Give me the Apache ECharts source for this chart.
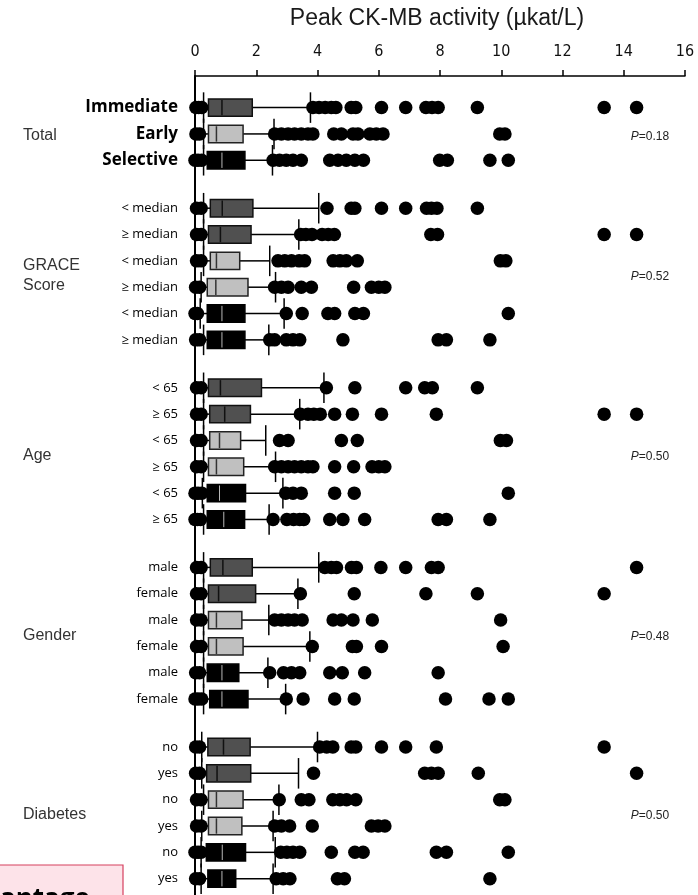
<!DOCTYPE html>
<html><head><meta charset="utf-8">
<script src="https://cdn.jsdelivr.net/npm/echarts@6/dist/echarts.min.js"></script>
<style>html,body{margin:0;padding:0;background:#fff}#c{width:698px;height:895px}</style>
</head><body><div id="c"></div>
<script>
// ---------------- data ----------------
const chartTitle = 'Peak CK-MB activity (µkat/L)';
const xTickValues = [0, 2, 4, 6, 8, 10, 12, 14, 16];
const groupNames = ['Total', 'GRACE\nScore', 'Age', 'Gender', 'Diabetes'];
const groupPValues = ['0.18', '0.52', '0.50', '0.48', '0.50'];
const strategyNames = ['Immediate', 'Early', 'Selective'];

const rowLabels = [
  'Immediate', 'Early', 'Selective',
  '< median', '≥ median', '< median', '≥ median', '< median', '≥ median',
  '< 65', '≥ 65', '< 65', '≥ 65', '< 65', '≥ 65',
  'male', 'female', 'male', 'female', 'male', 'female',
  'no', 'yes', 'no', 'yes', 'no', 'yes'
];
const rowGroup = [0,0,0, 1,1,1,1,1,1, 2,2,2,2,2,2, 3,3,3,3,3,3, 4,4,4,4,4,4];
const rowStrategy = [0,1,2, 0,0,1,1,2,2, 0,0,1,1,2,2, 0,0,1,1,2,2, 0,0,1,1,2,2];

const lowerWhisker = [0.28,0.28,0.28, 0.28,0.28,0.28,0.20,0.17,0.28, 0.28,0.28,0.28,0.28,0.24,0.28, 0.28,0.28,0.28,0.28,0.28,0.28, 0.22,0.22,0.28,0.22,0.20,0.20];
const quartile1    = [0.44,0.44,0.40, 0.50,0.44,0.50,0.40,0.40,0.40, 0.44,0.48,0.48,0.44,0.40,0.40, 0.50,0.44,0.44,0.44,0.40,0.48, 0.42,0.38,0.44,0.44,0.37,0.42];
const medianValue  = [0.88,0.70,0.88, 0.89,0.83,0.70,0.68,0.88,0.88, 0.83,0.97,0.80,0.70,0.80,0.94, 0.91,0.77,0.70,0.70,0.88,0.88, 0.93,0.72,0.70,0.70,0.89,0.88];
const quartile3    = [1.87,1.57,1.63, 1.89,1.83,1.46,1.73,1.63,1.63, 2.17,1.81,1.49,1.59,1.65,1.62, 1.87,1.98,1.53,1.57,1.43,1.73, 1.80,1.82,1.57,1.53,1.65,1.33];
const upperWhisker = [3.77,2.58,2.53, 4.04,3.39,2.44,2.63,2.91,2.41, 4.21,3.42,2.31,2.63,2.87,2.42, 4.04,3.36,2.41,3.75,2.38,2.96, 4.00,3.38,2.74,2.55,2.62,2.55];

const outliers = [
  [0.03,0.12,0.22,3.85,4.05,4.25,4.45,4.6,5.1,5.25,6.09,6.88,7.54,7.74,7.94,9.22,13.36,14.42],
  [0.03,0.15,2.6,2.82,3.04,3.25,3.47,3.69,3.85,4.53,4.78,5.16,5.32,5.71,5.92,6.14,9.95,10.12],
  [0.0,0.1,0.22,2.55,2.76,2.98,3.2,3.47,4.4,4.67,4.94,5.22,5.5,7.99,8.24,9.63,10.23],
  [0.05,0.2,4.31,5.1,5.22,6.09,6.88,7.56,7.72,7.9,9.22],
  [0.05,0.2,3.45,3.62,3.82,4.15,4.35,4.55,7.7,7.92,13.36,14.42],
  [0.05,0.2,2.71,2.93,3.15,3.4,3.58,4.51,4.73,4.94,5.3,9.97,10.15],
  [0.02,0.15,2.6,2.82,3.04,3.47,3.8,5.18,5.76,6.0,6.2],
  [0.0,0.08,2.98,3.5,4.34,4.56,5.22,5.5,10.23],
  [0.02,0.15,2.44,2.6,2.98,3.2,3.42,4.83,7.94,8.21,9.63],
  [0.05,0.2,4.29,5.22,6.88,7.5,7.75,9.22],
  [0.05,0.2,3.44,3.69,3.88,4.09,4.56,5.14,6.09,7.88,13.36,14.42],
  [0.05,0.2,2.76,3.04,4.78,5.3,9.97,10.17],
  [0.05,0.2,2.6,2.82,3.04,3.25,3.47,3.69,3.85,4.56,5.18,5.78,6.0,6.2],
  [0.0,0.1,0.22,2.96,3.2,3.47,4.56,5.2,10.23],
  [0.0,0.08,0.18,2.55,3.0,3.22,3.42,3.55,4.4,4.83,5.54,7.94,8.21,9.63],
  [0.05,0.2,4.24,4.45,4.62,5.11,5.27,6.07,6.88,7.72,7.94,14.42],
  [0.05,0.2,3.44,5.2,7.54,9.22,13.36],
  [0.05,0.2,2.6,2.82,3.04,3.25,3.5,4.51,4.78,5.16,5.79,9.98],
  [0.05,0.2,3.83,5.14,5.27,6.09,10.06],
  [0.02,0.15,2.44,2.89,3.15,3.42,4.4,4.81,5.54,7.94],
  [0.0,0.1,0.22,2.98,3.53,4.56,5.2,8.18,9.6,10.23],
  [0.02,0.15,4.07,4.3,4.5,5.1,5.25,6.09,6.88,7.88,13.36],
  [0.02,0.15,3.87,7.5,7.72,7.94,9.25,14.42],
  [0.05,0.2,2.75,3.47,3.72,4.5,4.73,4.95,5.25,9.95,10.12],
  [0.05,0.2,2.6,2.82,3.09,3.83,5.76,5.98,6.2],
  [0.0,0.1,0.2,2.8,3.0,3.2,3.42,4.45,5.22,5.49,7.88,8.21,10.23],
  [0.02,0.15,2.65,2.88,3.1,4.65,4.88,9.63]
];

const footnoteText = 'antage';

// ---------------- layout helpers ----------------
const GROUP_GAP = 0.82; // extra empty space between groups, in row units
const rowPos = rowLabels.map((_, i) => i + rowGroup[i] * GROUP_GAP);
const groupMid = groupNames.map((_, g) => {
  const ps = rowPos.filter((_, i) => rowGroup[i] === g);
  return (ps[0] + ps[ps.length - 1]) / 2;
});

const boxFill = ['#505050', '#c0c0c0', '#000000'];
const boxStroke = ['#111', '#222', '#000'];
const medianStroke = ['#111', '#333', '#b8b8b8'];

const boxData = rowLabels.map((_, i) => [rowPos[i], lowerWhisker[i], quartile1[i], medianValue[i], quartile3[i], upperWhisker[i], rowStrategy[i], i]);
const outlierData = [];
outliers.forEach((arr, i) => arr.forEach(v => outlierData.push([v, rowPos[i]])));
const groupData = groupNames.map((_, g) => [groupMid[g], g]);

function renderBox(params, api) {
  const p = api.value(0);
  const z0 = api.coord([0, p]);
  const lo = api.coord([api.value(1), p]);
  const a = api.coord([api.value(2), p]);
  const m = api.coord([api.value(3), p]);
  const b = api.coord([api.value(4), p]);
  const hi = api.coord([api.value(5), p]);
  const s = api.value(6);
  const idx = api.value(7);
  const rowH = Math.abs(api.size([0, 1])[1]);
  const bh = rowH * 0.66;
  const capH = rowH * 1.16;
  const y = a[1];
  const ls = { stroke: '#000', lineWidth: 1.5 };
  const isTotal = rowGroup[idx] === 0;
  return {
    type: 'group',
    children: [
      { type: 'line', shape: { x1: lo[0], y1: y, x2: a[0], y2: y }, style: ls },
      { type: 'line', shape: { x1: b[0], y1: y, x2: hi[0], y2: y }, style: ls },
      { type: 'line', shape: { x1: lo[0], y1: y - capH / 2, x2: lo[0], y2: y + capH / 2 }, style: ls },
      { type: 'line', shape: { x1: hi[0], y1: y - capH / 2, x2: hi[0], y2: y + capH / 2 }, style: ls },
      { type: 'rect', shape: { x: a[0], y: y - bh / 2, width: b[0] - a[0], height: bh },
        style: { fill: boxFill[s], stroke: boxStroke[s], lineWidth: 1.5 } },
      { type: 'line', shape: { x1: m[0], y1: y - bh / 2 + 1, x2: m[0], y2: y + bh / 2 - 1 },
        style: { stroke: medianStroke[s], lineWidth: s === 2 ? 1 : 1.5 } },
      { type: 'text', x: z0[0] - 17, y: y,
        style: { text: rowLabels[idx], fill: '#000', align: 'right', verticalAlign: 'middle',
          font: isTotal ? 'bold 17px "Open Sans", Lato, sans-serif' : '13px "Open Sans", Lato, sans-serif' } }
    ]
  };
}

function renderGroup(params, api) {
  const p = api.value(0);
  const g = api.value(1);
  const c = api.coord([0, p]);
  return {
    type: 'group',
    children: [
      { type: 'text', x: 23, y: c[1] + 2,
        style: { text: groupNames[g], fill: '#333', align: 'left', verticalAlign: 'middle',
          font: '16px "Liberation Sans", Arial, sans-serif', lineHeight: 20 } },
      { type: 'text', x: 650, y: c[1] + 3,
        style: { text: '{i|P}=' + groupPValues[g], fill: '#222', align: 'center', verticalAlign: 'middle',
          font: '12px "Liberation Sans", Arial, sans-serif',
          rich: { i: { fontStyle: 'italic', fontSize: 12, fontFamily: '"Liberation Sans", Arial, sans-serif', fill: '#222' } } } }
    ]
  };
}

const chart = echarts.init(document.getElementById('c'), null, { renderer: 'canvas' });
chart.setOption({
  animation: false,
  backgroundColor: '#fff',
  grid: { left: 195, right: 13, top: 76, bottom: 0, containLabel: false },
  xAxis: {
    type: 'value', position: 'top', min: xTickValues[0], max: xTickValues[xTickValues.length - 1],
    interval: xTickValues[1] - xTickValues[0],
    axisLine: { show: true, onZero: false, lineStyle: { color: '#000', width: 1.5 } },
    axisTick: { show: true, inside: false, length: 6, lineStyle: { color: '#000', width: 1.5 } },
    axisLabel: { margin: 16, color: '#111', fontSize: 16,
      fontFamily: '"Liberation Sans Narrow", "DejaVu Sans Condensed", "Liberation Sans", sans-serif' },
    splitLine: { show: false }
  },
  yAxis: {
    type: 'value', inverse: true, min: -1.2, max: 29.9,
    axisLine: { show: true, onZero: false, lineStyle: { color: '#000', width: 2 } },
    axisTick: { show: false }, axisLabel: { show: false }, splitLine: { show: false }
  },
  graphic: [
    { type: 'text', x: 437, y: 19, style: { text: chartTitle, fill: '#1a1a1a', align: 'center', verticalAlign: 'middle',
      font: '23px "Liberation Sans", Arial, sans-serif' } },
    { type: 'rect', shape: { x: -1, y: 865, width: 124, height: 40 },
      style: { fill: '#fde3e9', stroke: '#d6405f', lineWidth: 1.2 } },
    { type: 'text', x: 0, y: 900, style: { text: footnoteText, fill: '#000', align: 'left', verticalAlign: 'middle',
      font: 'bold 26px "Open Sans", Lato, sans-serif' } }
  ],
  series: [
    { type: 'custom', name: 'box', renderItem: renderBox, data: boxData, clip: false, z: 2,
      encode: { x: [1, 2, 3, 4, 5], y: 0 } },
    { type: 'scatter', name: 'outliers', data: outlierData, symbol: 'circle', symbolSize: 13.5,
      itemStyle: { color: '#000', opacity: 1 }, clip: false, z: 3, silent: true },
    { type: 'custom', name: 'groups', renderItem: renderGroup, data: groupData, clip: false, z: 4,
      encode: { y: 0 } }
  ]
});
</script>
</body></html>
